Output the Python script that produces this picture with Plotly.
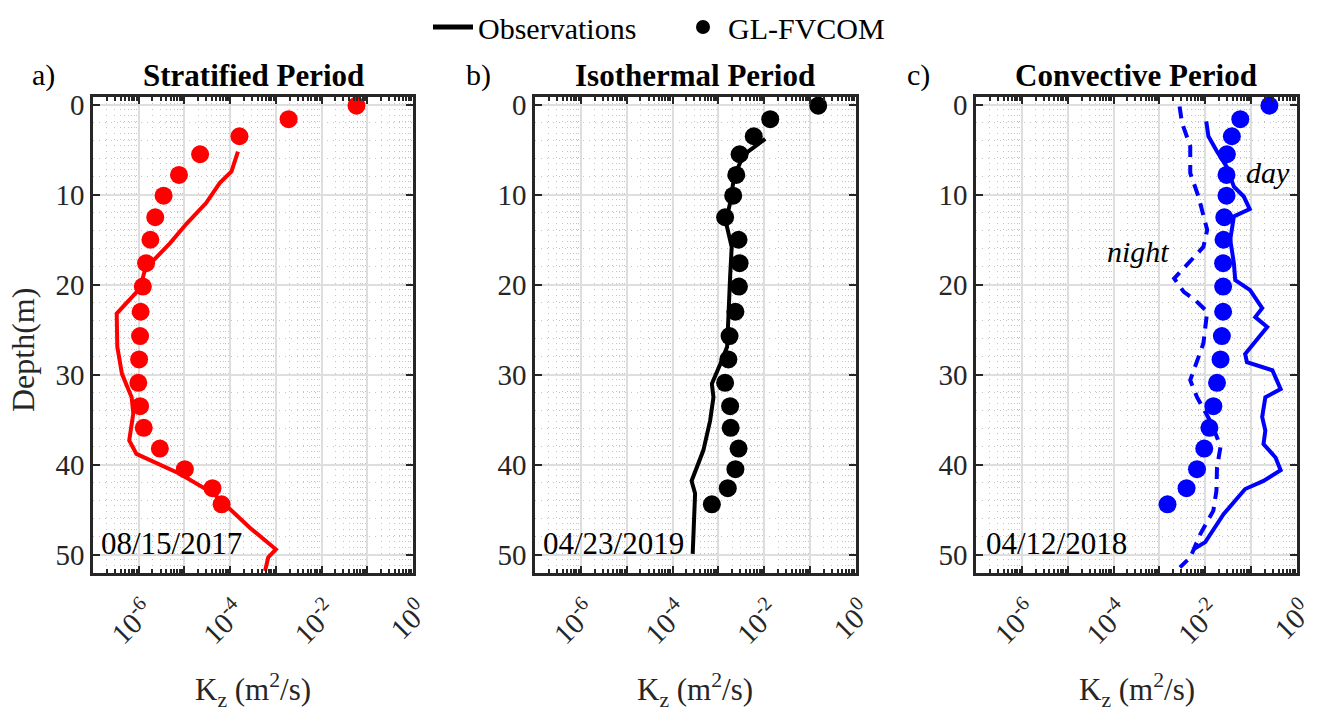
import plotly.graph_objects as go

# ---------------------------------------------------------------- data
# model sigma-layer depths (m)
depth_model = [0.1, 1.6, 3.5, 5.5, 7.8, 10.1, 12.5, 15.0, 17.6, 20.2,
               23.0, 25.7, 28.3, 30.9, 33.5, 35.9, 38.2, 40.5, 42.6, 44.4]

# a) stratified period
kz_strat_model = [5.8e-2, 1.9e-3, 1.6e-4, 2.2e-5, 7.6e-6, 3.5e-6, 2.3e-6, 1.8e-6,
                  1.45e-6, 1.23e-6, 1.1e-6, 1.07e-6, 1.02e-6, 9.8e-7, 1.07e-6,
                  1.29e-6, 2.9e-6, 1.02e-5, 4.1e-5, 6.5e-5]
depth_strat_obs = [5.2, 7.4, 8.7, 10.9, 13.2, 15.4, 17.3, 18.4, 20.4, 23.2, 26.9,
                   29.9, 32.5, 34.3, 37.3, 38.8, 41.0, 43.2, 47.0, 49.4, 50.3, 51.8]
kz_strat_obs = [1.48e-4, 1.07e-4, 5.9e-5, 3.0e-5, 1.12e-5, 4.8e-6, 2.1e-6, 1.36e-6,
                1.07e-6, 3.3e-7, 3.4e-7, 4.3e-7, 7.0e-7, 7.6e-7, 6.2e-7, 8.9e-7,
                7.9e-6, 4.3e-5, 2.7e-4, 1.0e-3, 6.8e-4, 5.8e-4]

# b) isothermal period
kz_iso_model = [1.5e-1, 1.35e-2, 5.9e-3, 2.9e-3, 2.45e-3, 2.1e-3, 1.4e-3, 2.75e-3,
                2.9e-3, 2.8e-3, 2.35e-3, 1.75e-3, 1.65e-3, 1.4e-3, 1.8e-3, 1.85e-3,
                2.75e-3, 2.35e-3, 1.6e-3, 7.2e-4]
depth_iso_obs = [3.8, 5.6, 8.0, 10.9, 13.0, 15.8, 19.1, 23.2, 26.9, 28.8, 31.0,
                 32.5, 35.1, 38.4, 40.3, 41.8, 43.2, 46.2, 49.9]
kz_iso_obs = [1.05e-2, 3.5e-3, 2.2e-3, 1.8e-3, 1.45e-3, 1.95e-3, 1.8e-3, 1.65e-3,
              1.55e-3, 1.1e-3, 7.2e-4, 7.8e-4, 6.6e-4, 4.7e-4, 3.4e-4, 2.6e-4,
              3.1e-4, 2.9e-4, 2.75e-4]

# c) convective period
kz_conv_model = [2.5e-1, 5.8e-2, 3.8e-2, 2.95e-2, 2.9e-2, 2.9e-2, 2.6e-2, 2.5e-2,
                 2.45e-2, 2.45e-2, 2.45e-2, 2.3e-2, 2.15e-2, 1.8e-2, 1.5e-2, 1.23e-2,
                 9.5e-3, 6.6e-3, 3.9e-3, 1.5e-3]
depth_conv_day = [1.85, 3.5, 5.2, 6.9, 9.1, 10.2, 11.6, 12.4, 15.0, 17.6, 19.5, 20.6,
                  22.6, 23.6, 24.7, 27.7, 28.6, 29.5, 31.6, 32.5, 34.7, 36.2, 37.7,
                  39.2, 40.6, 41.8, 42.7, 45.5, 48.6, 49.4]
kz_conv_day = [1.05e-2, 1.17e-2, 1.8e-2, 2.95e-2, 4.2e-2, 6.9e-2, 9.3e-2, 4.2e-2,
               3.5e-2, 4.2e-2, 4.5e-2, 9.5e-2, 1.74e-1, 1.23e-1, 2.24e-1, 7.4e-2,
               8.1e-2, 2.9e-1, 4.4e-1, 2.04e-1, 1.74e-1, 2.04e-1, 1.86e-1, 3.4e-1,
               4.4e-1, 1.86e-1, 7.4e-2, 2.5e-2, 1.0e-2, 5.5e-3]
depth_conv_night = [0.2, 2.0, 4.6, 7.6, 10.2, 13.9, 15.8, 18.0, 19.3, 20.8, 21.7,
                    23.0, 26.5, 30.6, 32.5, 35.5, 38.0, 40.3, 42.9, 45.1, 47.7,
                    50.3, 51.4]
kz_conv_night = [2.75e-3, 3.1e-3, 4.7e-3, 4.7e-3, 7.1e-3, 1.1e-2, 9.1e-3, 3.6e-3,
                 2.1e-3, 3.4e-3, 6.0e-3, 1.1e-2, 9.1e-3, 4.7e-3, 6.6e-3, 1.4e-2,
                 2.15e-2, 1.8e-2, 1.75e-2, 1.5e-2, 7.8e-3, 4.7e-3, 2.8e-3]

panel_titles = ["Stratified Period", "Isothermal Period", "Convective Period"]
panel_letters = ["a)", "b)", "c)"]
panel_dates = ["08/15/2017", "04/23/2019", "04/12/2018"]

x_tick_vals = [1e-7, 1e-6, 1e-5, 1e-4, 1e-3, 1e-2, 1e-1, 1e0]
x_tick_text = ["", "10<sup>-6</sup>", "", "10<sup>-4</sup>", "",
               "10<sup>-2</sup>", "", "10<sup>0</sup>"]
y_tick_vals = [0, 10, 20, 30, 40, 50]

# ---------------------------------------------------------------- style
FONT = "Liberation Serif, 'Times New Roman', Times, serif"
AX = "#262626"
FS = 29
FS_TXT = 30

minor_x = [k * 10.0 ** e for e in range(-7, 0) for k in range(2, 10)]

domains = [[0.0, 0.2658], [0.3671, 0.6337], [0.7334, 1.0]]

fig = go.Figure()

def axis_ids(i):
    return ("x" if i == 0 else f"x{i+1}", "y" if i == 0 else f"y{i+1}")

def add_line(i, x, y, color, dash="solid"):
    xa, ya = axis_ids(i)
    fig.add_trace(go.Scatter(x=x, y=y, mode="lines", showlegend=False,
                             line=dict(color=color, width=4, dash=dash),
                             xaxis=xa, yaxis=ya))

def add_dots(i, x, y, color):
    xa, ya = axis_ids(i)
    fig.add_trace(go.Scatter(x=x, y=y, mode="markers", showlegend=False,
                             marker=dict(color=color, size=18, line=dict(width=0)),
                             xaxis=xa, yaxis=ya))

add_line(0, kz_strat_obs, depth_strat_obs, "#ff0000")
add_dots(0, kz_strat_model, depth_model, "#ff0000")
add_line(1, kz_iso_obs, depth_iso_obs, "#000000")
add_dots(1, kz_iso_model, depth_model, "#000000")
add_line(2, kz_conv_night, depth_conv_night, "#0000ff", dash="12px,8px")
add_line(2, kz_conv_day, depth_conv_day, "#0000ff")
add_dots(2, kz_conv_model, depth_model, "#0000ff")

# legend entries
fig.add_trace(go.Scatter(x=[None], y=[None], mode="lines", name="Observations",
                         line=dict(color="black", width=5)))
fig.add_trace(go.Scatter(x=[None], y=[None], mode="markers", name="GL-FVCOM",
                         marker=dict(color="black", size=14)))

GRID = "#dedede"
MINOR_GRID = "#c4c4c4"

layout_axes = {}
for i in range(3):
    xa, ya = axis_ids(i)
    layout_axes["xaxis" if i == 0 else f"xaxis{i+1}"] = dict(
        type="log", range=[-7, 0], domain=domains[i], anchor=ya,
        tickmode="array", tickvals=x_tick_vals, ticktext=x_tick_text,
        tickangle=-45, ticks="inside", ticklen=7, tickwidth=2, tickcolor=AX,
        ticklabelstandoff=7, ticklabelshift=7,
        showline=True, linecolor=AX, linewidth=2.5, mirror="allticks",
        showgrid=True, gridcolor=GRID, gridwidth=1.5, zeroline=False,
        tickfont=dict(family=FONT, size=FS, color=AX),
        minor=dict(tickvals=minor_x, ticks="inside", ticklen=4, tickwidth=1.5,
                   tickcolor=AX, showgrid=True, gridcolor=MINOR_GRID,
                   griddash="1px,5px", gridwidth=1),
    )
    layout_axes["yaxis" if i == 0 else f"yaxis{i+1}"] = dict(
        range=[52.03, -0.86], domain=[0, 1], anchor=xa,
        tickmode="array", tickvals=y_tick_vals,
        ticks="inside", ticklen=7, tickwidth=2, tickcolor=AX,
        showline=True, linecolor=AX, linewidth=2.5, mirror="allticks",
        showgrid=True, gridcolor=GRID, gridwidth=1.5, zeroline=False,
        tickfont=dict(family=FONT, size=FS, color=AX),
        minor=dict(dtick=2, tick0=0, ticks="", showgrid=True,
                   gridcolor=MINOR_GRID, griddash="1px,5px", gridwidth=1),
    )

W_PLOT = 1204.0
H_PLOT = 476.0
def px(x):
    return (x - 93) / W_PLOT
def py(y):
    return (573 - y) / H_PLOT

def text_at(text, x, y, size=FS_TXT, color="black", xanchor="center", **kw):
    return dict(text=text, x=x, y=y, xref="paper", yref="paper", showarrow=False,
                xanchor=xanchor, yanchor="middle",
                font=dict(family=FONT, size=size, color=color), **kw)

ann = []
title_cx = [253, 695, 1136]
letter_cx = [43, 478, 918]
date_lx = [99, 540.5, 984]
for i in range(3):
    ann.append(text_at(f"<b>{panel_titles[i]}</b>", px(title_cx[i]), py(76),
                       size=31))
    ann.append(text_at(panel_letters[i], px(letter_cx[i]), py(75)))
    ann.append(text_at(panel_dates[i], px(date_lx[i]), py(543), size=31,
                       xanchor="left"))
    cx = (domains[i][0] + domains[i][1]) / 2
    ann.append(text_at("K<sub>z</sub> (m<sup>2</sup>/s)", cx, py(690), color=AX,
                       size=31))

ann.append(text_at("Depth(m)", px(23), py(350), size=32, color=AX, textangle=-90))
ann.append(text_at("<i>day</i>", px(1268), py(172)))
ann.append(text_at("<i>night</i>", px(1138), py(252)))

fig.update_layout(
    width=1324, height=718,
    margin=dict(l=93, r=27, t=97, b=145, autoexpand=False),
    paper_bgcolor="white", plot_bgcolor="white",
    showlegend=True,
    legend=dict(orientation="h", x=px(428), y=py(27), xanchor="left",
                yanchor="middle", font=dict(family=FONT, size=30, color="black"),
                bgcolor="rgba(0,0,0,0)", itemwidth=40, entrywidth=195,
                tracegroupgap=0),
    annotations=ann,
    **layout_axes,
)

fig.write_html("out.html")
